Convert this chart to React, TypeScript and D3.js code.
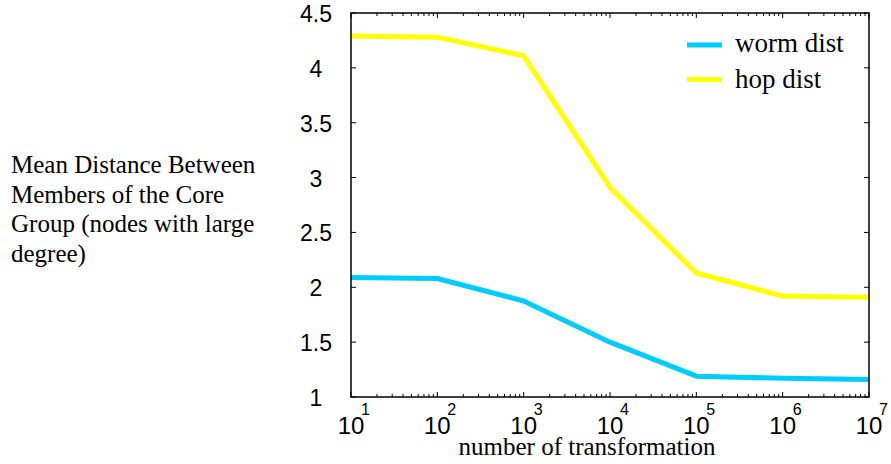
import React from "react";
import * as d3 from "d3";

const exponents = [1, 2, 3, 4, 5, 6, 7];
const wormDist = [2.09, 2.08, 1.875, 1.5, 1.19, 1.17, 1.16];
const hopDist = [4.29, 4.28, 4.11, 2.91, 2.13, 1.92, 1.91];
const yTicks = [1, 1.5, 2, 2.5, 3, 3.5, 4, 4.5];
const seriesNames = ["worm dist", "hop dist"];
const seriesColors = ["#00CCFF", "#FFFF00"];
const yLabelLines = ["Mean Distance Between", "Members of the Core", "Group (nodes with large", "degree)"];
const xLabel = "number of transformation";

const SANS = "'Liberation Sans', Arial, sans-serif";
const SERIF = "'Liberation Serif', 'Times New Roman', serif";

export default function App() {
  const W = 891, H = 464;
  const left = 351, right = 869, top = 13, bottom = 397;
  const x = d3.scaleLog().domain([1e1, 1e7]).range([left, right]);
  const y = d3.scaleLinear().domain([1, 4.5]).range([bottom, top]);
  const line = d3.line<[number, number]>().x(d => x(d[0])).y(d => y(d[1]));
  const series = [wormDist, hopDist];

  const minor: number[] = [];
  for (let e = 1; e < 7; e++) for (let m = 2; m <= 9; m++) minor.push(m * Math.pow(10, e));
  const major = exponents.map(e => Math.pow(10, e));

  return (
    <svg width={W} height={H} style={{ position: "absolute", left: 0, top: 0 }}>
      <rect width={W} height={H} fill="#fff" />
      {series.map((vals, i) => (
        <path key={i} d={line(vals.map((v, j) => [Math.pow(10, exponents[j]), v] as [number, number])) || ""}
          fill="none" stroke={seriesColors[i]} strokeWidth={5} strokeLinejoin="round" />
      ))}
      <rect x={left} y={top} width={right - left} height={bottom - top} fill="none" stroke="#000" strokeWidth={1.5} />
      {major.map((v, i) => (
        <g key={"mj" + i}>
          <line x1={x(v)} x2={x(v)} y1={bottom} y2={bottom - 5} stroke="#000" strokeWidth={1} />
          <line x1={x(v)} x2={x(v)} y1={top} y2={top + 5} stroke="#000" strokeWidth={1} />
        </g>
      ))}
      {minor.map((v, i) => (
        <g key={"mn" + i}>
          <line x1={x(v)} x2={x(v)} y1={bottom} y2={bottom - 3} stroke="#000" strokeWidth={1} />
          <line x1={x(v)} x2={x(v)} y1={top} y2={top + 3} stroke="#000" strokeWidth={1} />
        </g>
      ))}
      {yTicks.map((t, i) => (
        <g key={"yt" + i}>
          <line x1={left} x2={left + 5} y1={y(t)} y2={y(t)} stroke="#000" strokeWidth={1} />
          <line x1={right} x2={right - 5} y1={y(t)} y2={y(t)} stroke="#000" strokeWidth={1} />
          <text x={316} y={y(t) + 9} textAnchor="middle" fontFamily={SANS} fontSize={23} fill="#000">{String(t)}</text>
        </g>
      ))}
      {exponents.map((e, i) => (
        <g key={"xl" + i}>
          <text x={x(Math.pow(10, e))} y={434} textAnchor="middle" fontFamily={SANS} fontSize={24} fill="#000">10</text>
          <text x={x(Math.pow(10, e)) + 10} y={415} fontFamily={SANS} fontSize={16} fill="#000">{String(e)}</text>
        </g>
      ))}
      <text x={587} y={455} textAnchor="middle" fontFamily={SERIF} fontSize={25} fill="#000">{xLabel}</text>
      {yLabelLines.map((s, i) => (
        <text key={"yl" + i} x={11} y={173.3 + i * 29.5} fontFamily={SERIF} fontSize={25} fill="#000">{s}</text>
      ))}
      {seriesNames.map((n, i) => (
        <g key={"lg" + i}>
          <line x1={687} x2={722} y1={45 + i * 34.5} y2={45 + i * 34.5} stroke={seriesColors[i]} strokeWidth={5} />
          <text x={735} y={52 + i * 36} fontFamily={SERIF} fontSize={27} fill="#000">{n}</text>
        </g>
      ))}
    </svg>
  );
}
